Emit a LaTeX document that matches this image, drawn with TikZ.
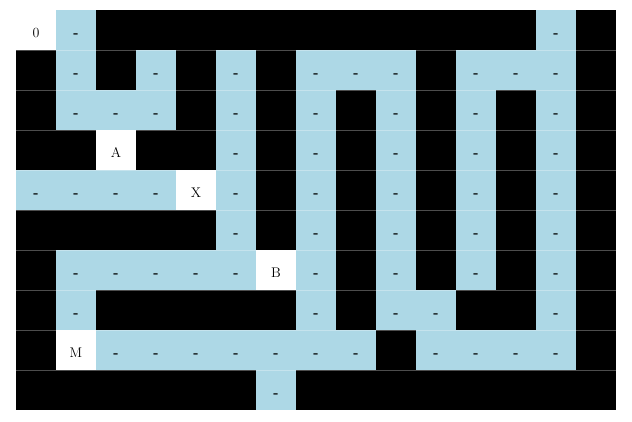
\documentclass[tikz,border=0pt]{standalone}
\usepackage{fontspec}
\definecolor{pathblue}{RGB}{173,216,230}
\tikzset{
  cellbase/.style={rectangle, minimum width=40pt, minimum height=40pt, inner sep=0pt, outer sep=0pt,
    font=\fontsize{14}{16}\selectfont, text height=14.6pt, text depth=0pt},
  wall/.style={cellbase, fill=black},
  pathcell/.style={cellbase, fill=pathblue, font=\fontsize{14}{16}\selectfont\bfseries},
  markcell/.style={cellbase, fill=white},
  gridline/.style={draw=white, draw opacity=0.3, line width=1pt}
}
\begin{document}
\begin{tikzpicture}[x=1pt,y=-1pt]
\useasboundingbox[fill=white] (0,0) rectangle (632,421);
\def\cellK{K}\def\cellP{-}
\foreach \row [count=\r from 0] in {
  {0,-,K,K,K,K,K,K,K,K,K,K,K,-,K},
  {K,-,K,-,K,-,K,-,-,-,K,-,-,-,K},
  {K,-,-,-,K,-,K,-,K,-,K,-,K,-,K},
  {K,K,A,K,K,-,K,-,K,-,K,-,K,-,K},
  {-,-,-,-,X,-,K,-,K,-,K,-,K,-,K},
  {K,K,K,K,K,-,K,-,K,-,K,-,K,-,K},
  {K,-,-,-,-,-,B,-,K,-,K,-,K,-,K},
  {K,-,K,K,K,K,K,-,K,-,-,K,K,-,K},
  {K,M,-,-,-,-,-,-,-,K,-,-,-,-,K},
  {K,K,K,K,K,K,-,K,K,K,K,K,K,K,K}}{
  \foreach \v [count=\c from 0] in \row {
    \edef\cur{\v}
    \ifx\cur\cellK
      \node[wall] (c\r-\c) at (36+40*\c, 30+40*\r) {};
    \else\ifx\cur\cellP
      \node[pathcell] (c\r-\c) at (36+40*\c, 30+40*\r) {-};
    \else
      \node[markcell] (c\r-\c) at (36+40*\c, 30+40*\r) {\v};
    \fi\fi
  }
}
\foreach \r in {1,...,10}{
  \draw[gridline] (16,10+40*\r) -- (616,10+40*\r);
}
\end{tikzpicture}
\end{document}
